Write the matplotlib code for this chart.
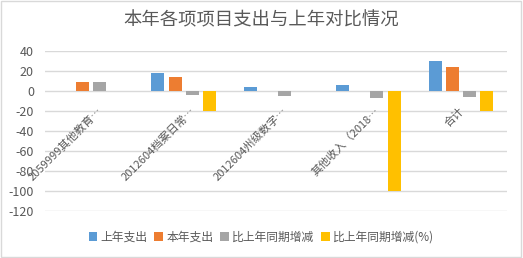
import matplotlib.pyplot as plt
import numpy as np

plt.rcParams['font.family'] = ['Noto Sans CJK SC', 'DejaVu Sans']

# 数据
categories = ['2059999其他教育…', '2012604档案日常…', '2012604州级数字…',
              '其他收入（2018…', '合计']
last_year = [0, 18.5, 4.5, 6.5, 30.5]
this_year = [9.5, 14.5, 0, 0, 24.5]
diff = [9.5, -3.5, -5, -7, -6]
diff_pct = [0, -20, 0, -100, -20]
series_names = ['上年支出', '本年支出', '比上年同期增减', '比上年同期增减(%)']
colors = ['#5B9BD5', '#ED7D31', '#A5A5A5', '#FFC000']
yticks = [40, 20, 0, -20, -40, -60, -80, -100, -120]

fig = plt.figure(figsize=(5.23, 2.58), dpi=100)
ax = fig.add_axes([45 / 523, 1 - 211 / 258, 462 / 523, 160 / 258])

x = np.arange(len(categories))
w = 0.14
step = 0.185
for k, vals in enumerate([last_year, this_year, diff, diff_pct]):
    ax.bar(x + (k - 1.5) * step, vals, width=w, color=colors[k],
           label=series_names[k], zorder=3)

ax.set_xlim(-0.5, len(categories) - 0.5)
ax.set_ylim(-120, 40)
ax.set_yticks(yticks)
ax.set_yticklabels([str(t) for t in yticks], fontsize=9, color='#595959')
ax.tick_params(axis='y', length=0, pad=8)
ax.set_xticks([])
ax.grid(axis='y', color='#D9D9D9', linewidth=1, zorder=0)
for s in ax.spines.values():
    s.set_visible(False)

# 分类标签，旋转45度，靠近0轴
for i, lab in enumerate(categories):
    ax.annotate(lab, xy=(i, 0), xytext=(7 if i < 4 else 1, -13),
                textcoords='offset points', rotation=45,
                rotation_mode='anchor', ha='right', va='center',
                fontsize=8, color='#595959', zorder=4)

fig.text(0.5, 1 - 20 / 258, '本年各项项目支出与上年对比情况', ha='center',
         va='center', fontsize=13.2, color='#595959')

fig.legend(loc='center', bbox_to_anchor=(0.5, 1 - 237 / 258), ncol=4,
           frameon=False, fontsize=8.5, handlelength=0.7, handleheight=0.7,
           handletextpad=0.3, columnspacing=0.6, labelcolor='#595959')

fig.patches.append(plt.Rectangle((0.002, 0.004), 0.994, 0.992,
                                 transform=fig.transFigure, fill=False,
                                 edgecolor='#D9D9D9', linewidth=1))

fig.savefig('out.png', dpi=100)
